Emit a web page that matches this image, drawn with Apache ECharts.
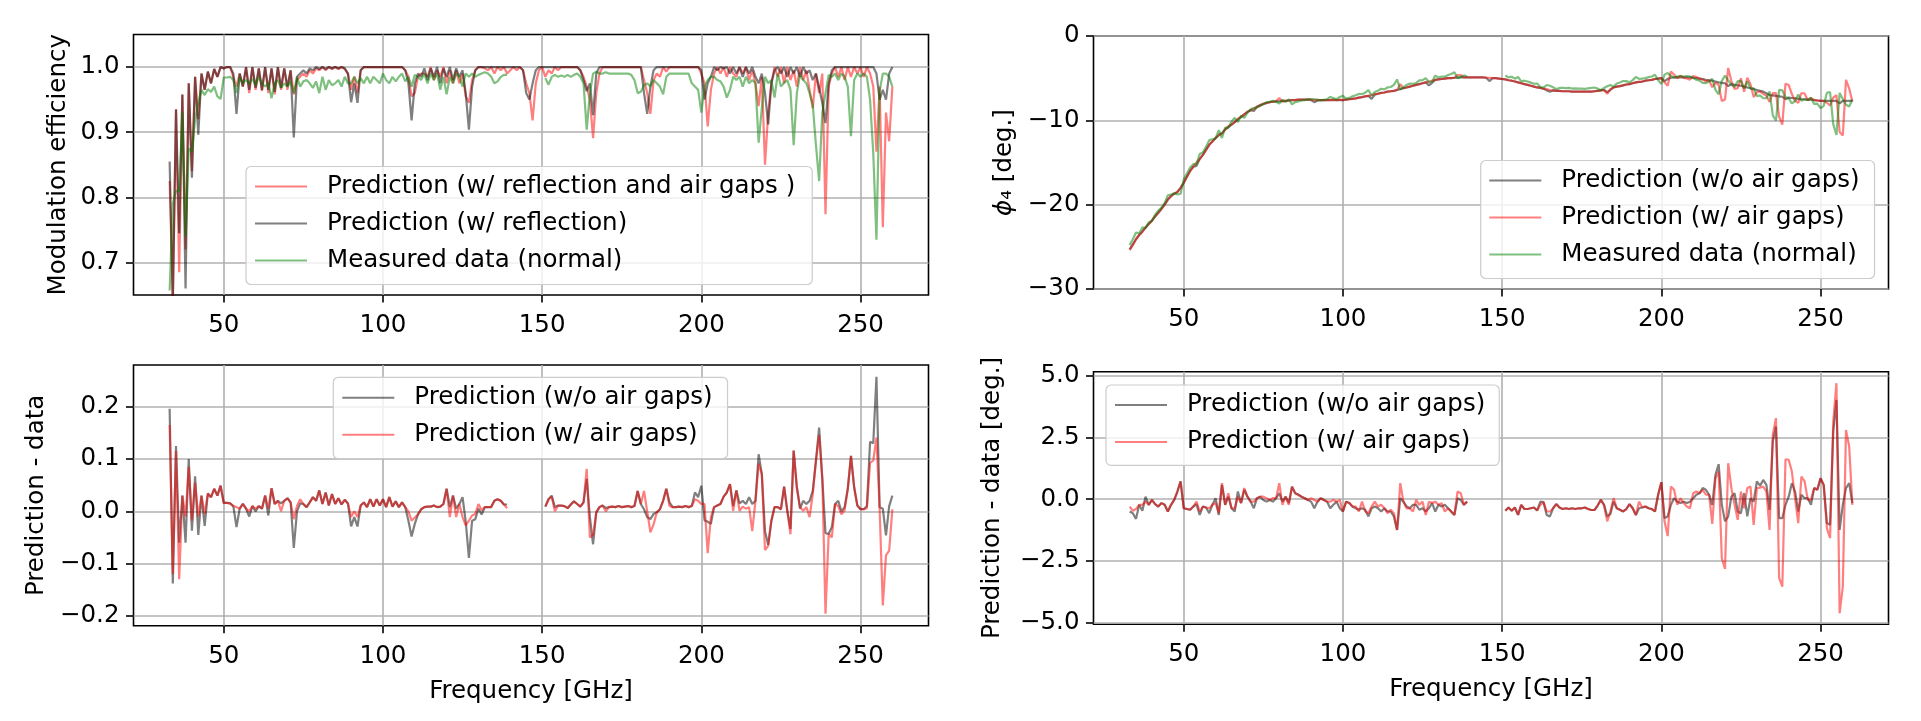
<!DOCTYPE html>
<html>
<head>
<meta charset="utf-8">
<script src="https://cdn.jsdelivr.net/npm/echarts/dist/echarts.min.js"></script>
<style>
  html, body { margin: 0; padding: 0; background: #fff; }
  #chart { width: 1921px; height: 721px; }
</style>
</head>
<body>
<div id="chart"></div>
<script>
'use strict';

// frequency grid of the measurement, GHz (one point per GHz, 33 .. 260)
var freq = [];
for (var f = 33; f <= 260; f++) freq.push(f);

// top left: modulation efficiency (rows of 10 points, first frequency in the comment)
var effAirGaps = [
  .825, .64, .935, .685, .958, .72, .975, .84, .985, .92,    // 33
  .99, .965, .993, .975, .997, .985, 1, .998, 1, 1,          // 43
  .985, .97, .99, .97, 1, .96, 1, .965, .998, .963,          // 53
  1, .96, .998, .958, 1, .965, .998, .965, .995, .958,       // 63
  .98, .985, .99, .985, .995, .99, .998, .995, 1, .995,      // 73
  1, .997, 1, .997, 1, .997, .99, .965, .985, .96,           // 83
  .995, 1, 1, 1, 1, 1, 1, 1, 1, 1,                           // 93
  1, 1, 1, 1, .995, .985, .955, .96, .985, .99,              // 103
  .99, .985, 1, .98, .995, .985, 1, .975, .995, .975,        // 113
  .995, .975, .99, .955, .945, .98, .995, 1, 1, .998,        // 123
  .995, 1, .99, 1, .995, 1, .99, .995, 1, .995,              // 133
  1, .995, .975, .96, .918, .975, .995, 1, .985, .995,       // 143
  .99, 1, .995, 1, 1, 1, 1, 1, 1, .995,                      // 153
  .985, .97, .95, .891, .96, .99, 1, 1, 1, 1,                // 163
  1, 1, 1, 1, 1, 1, 1, 1, 1, .98,                            // 173
  .96, .928, .98, .99, .985, 1, .993, 1, 1, 1,               // 183
  1, 1, 1, 1, 1, 1, 1, .99, .975, .909,                      // 193
  .965, .99, 1, .99, 1, .985, 1, .99, .985, 1,               // 203
  .99, 1, .98, .995, .975, .94, .985, .85, .93, .975,        // 213
  1, .985, 1, .975, 1, .98, .995, .97, 1, .98,               // 223
  .995, .965, .937, .99, .96, .99, .774, .97, .99, 1,        // 233
  .985, 1, .98, 1, .985, 1, .99, 1, .985, 1,                 // 243
  .99, .97, .87, .97, .754, .93, .886, .97                   // 253
];
var effRefl = [
  .855, .64, .935, .745, .958, .66, .975, .83, .985, .896,   // 33
  .99, .965, .993, .975, .997, .985, 1, .998, 1, 1,          // 43
  .99, .928, .99, .97, 1, .965, 1, .968, .998, .965,         // 53
  1, .965, .998, .962, 1, .968, .998, .97, .995, .892,       // 63
  .985, .99, .995, .99, .998, .995, 1, .997, 1, .997,        // 73
  1, .998, 1, .998, 1, .998, .99, .946, .975, .945,          // 83
  .995, 1, 1, 1, 1, 1, 1, 1, 1, 1,                           // 93
  1, 1, 1, 1, .995, .975, .918, .975, .99, .985,             // 103
  .998, .98, .998, .985, 1, .975, .998, .985, 1, .98,        // 113
  .998, .985, .995, .96, .904, .97, .995, 1, 1, 1,           // 123
  1, 1, 1, 1, 1, 1, 1, 1, 1, 1,                              // 133
  1, .995, .96, .95, .975, .995, 1, 1, 1, 1,                 // 143
  1, 1, 1, 1, 1, 1, 1, 1, 1, .995,                           // 153
  .98, .963, .975, .926, .99, 1, 1, 1, 1, 1,                 // 163
  1, 1, 1, 1, 1, 1, 1, 1, 1, .96,                            // 173
  .928, .97, .995, 1, 1, 1, 1, 1, 1, 1,                      // 183
  1, 1, 1, 1, 1, 1, 1, .995, .95, .975,                      // 193
  .985, 1, .995, 1, .998, 1, .99, 1, .99, 1,                 // 203
  .985, 1, .99, 1, .985, .975, .99, .96, .912, .975,         // 213
  .995, 1, .99, 1, .985, 1, .99, 1, .985, 1,                 // 223
  .99, .995, .98, .99, .968, .945, .914, .975, .995, 1,      // 233
  1, 1, 1, 1, 1, 1, 1, 1, 1, 1,                              // 243
  1, 1, .99, .95, .965, .95, .99, 1                          // 253
];
var effMeas = [
  .657, .79, .81, .81, .93, .74, .875, .87, .92, .945,       // 33
  .965, .957, .966, .962, .97, .955, .951, .984, .984, .985, // 43
  .98, .96, .985, .975, .98, .975, .982, .972, .985, .975,   // 53
  .97, .975, .952, .975, .98, .968, .975, .97, .978, .96,    // 63
  .985, .97, .978, .98, .975, .968, .978, .96, .985, .965,   // 73
  .98, .972, .975, .98, .97, .985, .975, .975, .985, .975,   // 83
  .983, .975, .985, .975, .985, .98, .975, .99, .98, .975,   // 93
  .985, .978, .985, .99, .978, .985, .97, .988, .985, .98,   // 103
  .99, .975, .99, .98, .99, .965, .985, .958, .985, .975,    // 113
  .99, .985, .97, .99, .985, .99, .985, .988, .99, .992,     // 123
  .99, .985, .975, .978, .985, .988, .988, null, null, null, // 133
  null, null, null, null, null, null, null, null, .983, .973, // 143
  .985, .988, .985, .987, .985, .988, .985, .988, .99, .985, // 153
  .975, .904, .96, .99, .993, .99, .99, .992, .99, .99,      // 163
  .99, .99, .99, .99, .99, .988, .98, .96, .962, .972,       // 173
  .975, .97, .98, .975, .97, .958, .985, .99, .99, .99,      // 183
  .99, .99, .99, .99, .975, .97, .965, .93, .97, .98,        // 193
  .985, .985, .98, .978, .97, .953, .965, .985, .98, .985,   // 203
  .97, .985, .975, .98, .975, .884, .937, .985, .975, .98,   // 213
  .953, .99, .97, .976, .98, .965, .88, .96, .988, .98,      // 223
  .975, .96, .942, .88, .825, .93, .96, .988, .985, .99,     // 233
  .98, .99, .985, .97, .894, .98, .99, .985, .99, .985,      // 243
  .95, .868, .735, .963, .99, .99, .985, .97                 // 253
];

// top right: phase phi_4 in degrees
var phiNoGap = [
  -25.3, -24.7, -24.1, -23.6, -23.2, -22.7, -22.3, -21.9, -21.4, -21.0,  // 33
  -20.5, -20.0, -19.4, -19.0, -18.7, -18.5, -18.0, -17.4, -16.7, -16.0,  // 43
  -15.5, -15.4, -14.6, -14.1, -13.5, -12.9, -12.5, -12.1, -11.8, -11.5,  // 53
  -11.1, -10.8, -10.5, -10.2, -9.9, -9.6, -9.3, -9.0, -8.8, -8.9,        // 63
  -8.4, -8.2, -8.1, -7.95, -7.85, -7.8, -7.75, -7.75, -7.7, -7.7,        // 73
  -7.65, -7.6, -7.6, -7.55, -7.55, -7.55, -7.55, -7.6, -7.85, -7.65,     // 83
  -7.6, -7.6, -7.6, -7.6, -7.6, -7.6, -7.6, -7.6, -7.55, -7.5,           // 93
  -7.45, -7.4, -7.3, -7.25, -7.15, -7.1, -7.45, -6.95, -6.85, -6.75,     // 103
  -6.7, -6.6, -6.55, -6.5, -6.4, -6.3, -6.2, -6.1, -6.0, -5.9,           // 113
  -5.8, -5.7, -5.6, -5.5, -5.85, -5.55, -5.2, -5.15, -5.1, -5.05,        // 123
  -5.0, -5.0, -4.95, -4.95, -4.9, -4.9, -4.9, -4.9, -4.9, -4.9,          // 133
  -4.9, -4.9, -4.95, -5.35, -5.0, -5.0, -5.05, -5.1, -5.15, -5.25,       // 143
  -5.3, -5.4, -5.5, -5.6, -5.7, -5.8, -5.9, -6.0, -6.1, -6.15,           // 153
  -6.25, -6.45, -6.6, -6.45, -6.5, -6.5, -6.55, -6.55, -6.55, -6.6,      // 163
  -6.6, -6.6, -6.6, -6.6, -6.6, -6.6, -6.55, -6.5, -6.45, -6.4,          // 173
  -6.65, -6.4, -6.1, -6.0, -5.95, -5.85, -5.75, -5.7, -5.6, -5.5,        // 183
  -5.45, -5.4, -5.3, -5.25, -5.2, -5.1, -5.05, -5.0, -5.35, -5.1,        // 193
  -4.95, -4.9, -4.9, -4.9, -4.9, -4.9, -4.9, -4.95, -5.0, -5.05,         // 203
  -5.1, -5.2, -5.25, -5.3, -5.4, -5.5, -5.55, -5.6, -5.95, -5.7,         // 213
  -5.8, -5.85, -5.9, -6.0, -6.1, -6.2, -6.3, -6.4, -6.5, -6.6,           // 223
  -6.8, -7.0, -7.05, -7.1, -7.15, -7.2, -7.5, -7.3, -7.35, -7.4,         // 233
  -7.45, -7.5, -7.5, -7.55, -7.55, -7.6, -7.65, -7.7, -7.7, -7.7,        // 243
  -7.7, -7.7, -7.7, -8.0, -7.7, -7.7, -7.7, -7.7                         // 253
];
var phiGap = [
  -25.4, -24.8, -24.1, -23.6, -23.2, -22.7, -22.3, -21.9, -21.4, -20.9,  // 33
  -20.5, -20.0, -19.4, -19.0, -18.7, -18.5, -18.0, -17.4, -16.7, -16.0,  // 43
  -15.5, -15.0, -14.6, -14.1, -13.5, -12.9, -12.5, -12.1, -11.7, -11.6,  // 53
  -11.1, -10.7, -10.5, -10.2, -9.8, -9.6, -9.3, -9.0, -8.8, -8.6,        // 63
  -8.4, -8.2, -8.0, -7.95, -7.85, -7.8, -7.75, -7.35, -7.8, -7.7,        // 73
  -7.65, -7.6, -7.6, -7.55, -7.55, -7.55, -7.55, -7.5, -7.6, -7.6,       // 83
  -7.6, -7.6, -7.6, -7.6, -7.55, -7.6, -7.55, -7.6, -7.55, -7.5,         // 93
  -7.45, -7.4, -7.3, -7.25, -7.15, -7.1, -7.0, -6.9, -6.85, -6.75,       // 103
  -6.7, -6.6, -6.55, -6.5, -6.4, -5.7, -6.2, -6.1, -6.0, -5.9,           // 113
  -5.8, -5.7, -5.6, -5.5, -5.4, -5.3, -5.2, -5.15, -5.1, -5.05,          // 123
  -5.0, -5.0, -4.95, -4.65, -4.65, -4.9, -4.9, -4.9, -4.9, -4.9,         // 133
  -4.9, -4.9, -4.95, -4.95, -5.0, -5.0, -5.05, -5.1, -5.15, -5.25,       // 143
  -5.3, -5.4, -5.5, -5.6, -5.7, -5.8, -5.9, -6.0, -6.1, -6.15,           // 153
  -6.25, -6.3, -6.4, -6.45, -6.5, -6.5, -6.55, -6.55, -6.55, -6.6,       // 163
  -6.6, -6.6, -6.6, -6.6, -6.6, -6.6, -6.55, -6.5, -6.45, -6.4,          // 173
  -6.85, -6.3, -6.1, -6.0, -5.95, -5.85, -5.75, -5.7, -5.6, -5.5,        // 183
  -5.45, -5.4, -5.3, -5.25, -5.2, -5.1, -5.05, -5.0, -5.48, -5.9,        // 193
  -4.21, -4.56, -5.03, -4.7, -4.96, -5.04, -5.17, -4.75, -4.87, -5.05,   // 203
  -5.17, -5.4, -5.25, -6.07, -5.54, -5.8, -7.72, -7.53, -3.79, -5.35,    // 213
  -6.27, -6.19, -5.02, -6.61, -4.95, -5.73, -7.24, -6.67, -6.58, -6.87,  // 223
  -7.07, -7.82, -6.78, -6.76, -9.58, -10.5, -5.65, -5.8, -6.88, -7.67,   // 233
  -7.92, -6.76, -6.82, -7.62, -7.35, -7.6, -7.65, -7.7, -7.7, -7.91,     // 243
  -8.24, -7.3, -7.02, -11.38, -11.8, -5.2, -6.21, -7.77                  // 253
];
var phiMeas = [
  -24.8, -24.1, -23.3, -23.4, -22.7, -22.8, -22.1, -21.9, -21.2, -20.7,      // 33
  -20.35, -19.8, -18.9, -18.8, -18.65, -18.8, -18.7, -17.0, -16.3, -15.6,    // 43
  -15.2, -15.2, -14.0, -13.8, -13.15, -12.35, -12.25, -12.15, -11.15, -12.1, // 53
  -10.85, -10.9, -10.15, -9.7, -10.2, -9.45, -9.7, -9.1, -8.7, -8.55,        // 63
  -8.45, -8.3, -8.05, -7.85, -7.8, -7.7, -7.8, -8.0, -7.6, -7.8,             // 73
  -7.5, -8.1, -7.85, -7.75, -7.65, -7.6, -7.5, -7.5, -7.5, -7.55,            // 83
  -7.64, -7.57, -7.5, -7.23, -7.37, -7.5, -7.23, -7.1, -7.45, -7.34,         // 93
  -7.15, -7.03, -6.87, -6.88, -6.72, -6.4, -7.08, -6.65, -6.48, -6.25,       // 103
  -6.33, -6.1, -6.05, -5.8, -5.15, -6.34, -6.1, -5.8, -5.63, -5.67,          // 113
  -5.57, -5.27, -5.23, -5.0, -5.48, -5.39, -4.7, -4.92, -4.8, -4.82,         // 123
  -4.63, -4.5, -4.31, -4.99, -4.87, -4.67, -4.8, null, null, null,           // 133
  null, null, null, null, null, null, null, null, -4.68, -4.91,              // 143
  -4.83, -5.06, -4.86, -5.37, -5.3, -5.4, -5.53, -5.66, -5.64, -6.05,        // 153
  -6.13, -5.81, -5.9, -6.08, -6.3, -6.16, -6.15, -6.18, -6.15, -6.23,        // 163
  -6.2, -6.23, -6.23, -6.26, -6.2, -6.16, -6.11, -6.24, -6.42, -6.17,        // 173
  -5.95, -5.8, -6.0, -5.63, -5.52, -5.35, -5.35, -5.5, -5.23, -4.86,         // 183
  -5.08, -5.06, -5.0, -4.88, -4.8, -4.6, -5.23, -5.69, -4.58, -4.4,          // 193
  -4.72, -4.94, -4.8, -4.74, -4.8, -4.74, -4.8, -4.99, -5.18, -5.29,         // 203
  -5.55, -5.58, -5.43, -5.07, -6.39, -6.92, -5.32, -4.7, -5.25, -5.8,        // 213
  -6.04, -5.35, -5.33, -6.24, -5.4, -6.24, -6.2, -7.12, -7.05, -7.38,        // 223
  -7.38, -6.57, -9.39, -10.05, -6.38, -6.43, -7.27, -7.4, -8.0, -7.71,       // 233
  -6.95, -7.68, -7.54, -7.59, -7.32, -8.05, -8.03, -8.55, -8.28, -6.73,      // 243
  -6.66, -10.45, -11.73, -6.75, -7.47, -8.15, -8.35, -7.54                   // 253
];

// bottom left: prediction - data, modulation efficiency
var dEffNoGap = [
  .196, -.138, .125, -.06, .03, -.06, .1, -.037, .067, -.045,      // 33
  .03, -.028, .034, .027, .043, .03, .049, .016, .016, .015,       // 43
  .01, -.03, .005, .014, .005, -.01, .01, 0, .01, .005,            // 53
  .03, -.008, .044, .014, .02, .015, .02, .025, .017, -.07,        // 63
  0, .015, .014, .008, .017, .027, .02, .04, .014, .036,           // 73
  .011, .033, .014, .025, .013, .022, .015, -.029, -.011, -.029,   // 83
  .011, .017, .008, .023, .009, .023, .011, .023, .008, .027,      // 93
  .009, .019, .008, .017, .008, -.018, -.048, -.024, -.006, .004,  // 103
  .008, .009, .009, .011, .008, .009, .014, .043, .008, .03,       // 113
  .005, .014, .027, -.02, -.089, -.018, -.015, .005, -.006, .008,  // 123
  .008, .008, .02, .023, .02, .013, .013, null, null, null,        // 133
  null, null, null, null, null, null, null, null, .009, .023,      // 143
  .03, .008, .011, .011, .01, .006, .013, .019, .014, .009,        // 153
  .017, .062, -.011, -.063, -.002, .008, .011, .006, .008, .009,   // 163
  .008, .01, .008, .009, .01, .008, .01, .039, .014, .004,         // 173
  -.011, -.015, -.005, -.002, .004, .02, .043, .017, .008, .008,   // 183
  .009, .008, .01, .008, .01, .036, .027, .049, -.017, -.02,       // 193
  -.024, .008, .011, .014, .028, .036, .052, .01, .04, .015,       // 203
  .02, .014, .027, .014, .02, .109, .071, -.038, -.064, -.018,     // 213
  .008, .008, .004, .047, .001, -.034, .116, .046, .005, .02,      // 223
  .014, .02, .039, .097, .16, .062, -.042, -.043, -.03, .014,      // 233
  .02, 0, .008, .043, .106, .046, .011, .004, .004, .01,           // 243
  .133, .13, .257, .008, .005, -.046, .01, .03                     // 253
];
var dEffGap = [
  .165, -.12, .115, -.13, .03, -.01, .085, -.018, .055, -.01,      // 33
  .03, -.005, .034, .027, .043, .03, .049, .016, .016, .015,       // 43
  .01, .008, .005, .014, .005, 0, .01, .005, .01, .005,            // 53
  .03, .005, .044, .014, .02, 0, .02, .025, .017, -.015,           // 63
  .01, .023, .014, .008, .017, .027, .02, .04, .014, .036,         // 73
  .011, .033, .014, .025, .013, .022, .015, -.011, 0, -.011,       // 83
  .011, .017, .008, .023, .009, .023, .011, .023, .008, .027,      // 93
  .009, .019, .008, .017, .008, 0, -.018, -.012, -.006, .004,      // 103
  .008, .009, .009, .011, .008, .009, .014, .043, -.011, .03,      // 113
  -.011, .014, -.011, -.027, -.018, -.008, -.005, .014, .002, .008, // 123
  .008, .008, .02, .023, .02, .013, .006, null, null, null,        // 133
  null, null, null, null, null, null, null, null, .009, .023,      // 143
  .028, 0, .011, .011, .01, .006, .013, .019, .014, .009,          // 153
  .017, .081, -.05, -.045, -.002, .008, .011, 0, .008, .009,       // 163
  .008, .01, .008, .009, .01, .008, .01, .039, .014, .039,         // 173
  0, -.04, -.025, -.002, .004, .02, .043, .01, .008, .008,         // 183
  .009, .008, .01, .008, .01, .023, .02, .014, .014, -.08,         // 193
  -.011, .008, .011, .014, .028, .036, .052, .001, .04, .001,      // 203
  .009, .005, .008, -.038, .02, .091, .071, -.074, -.066, -.018,   // 213
  .008, .008, .004, .047, .001, -.044, .116, .046, .008, .001,     // 223
  .008, -.011, .033, .097, .146, .062, -.196, -.043, -.05, .014,   // 233
  .01, -.006, .002, .043, .106, .046, .011, .004, .004, .006,      // 243
  .093, .097, .141, .005, -.18, -.084, -.075, .004                 // 253
];

// bottom right: prediction - data, degrees
var dPhiNoGap = [
  -.5, -.57, -.8, -.23, -.47, .1, -.23, -.03, -.2, -.3,        // 33
  -.16, -.23, -.5, -.23, -.03, .31, .72, -.37, -.4, -.43,      // 43
  -.3, -.2, -.64, -.3, -.34, -.57, -.23, .04, -.64, .58,       // 53
  -.23, .1, -.37, -.5, .31, -.16, .38, .1, -.1, -.37,          // 63
  .04, .1, -.03, -.1, -.03, -.1, .04, .24, -.1, .1,            // 73
  -.16, .51, .24, .18, .1, .04, -.03, -.1, -.37, -.1,          // 83
  .04, -.03, -.1, -.37, -.23, -.1, -.37, -.5, -.1, -.16,       // 93
  -.3, -.37, -.43, -.37, -.43, -.7, -.37, -.3, -.37, -.5,      // 103
  -.37, -.5, -.5, -.7, -1.25, .04, -.1, -.3, -.37, -.23,       // 113
  -.23, -.43, -.37, -.5, -.37, -.16, -.5, -.23, -.3, -.23,     // 123
  -.37, -.5, -.64, .04, -.03, -.23, -.1, null, null, null,     // 133
  null, null, null, null, null, null, null, null, -.47, -.34,  // 143
  -.47, -.34, -.64, -.23, -.4, -.4, -.37, -.34, -.46, -.1,     // 153
  -.12, -.64, -.7, -.37, -.2, -.34, -.4, -.37, -.4, -.37,      // 163
  -.4, -.37, -.37, -.34, -.4, -.44, -.44, -.26, -.03, -.23,    // 173
  -.7, -.6, -.1, -.37, -.43, -.5, -.4, -.2, -.37, -.64,        // 183
  -.37, -.34, -.3, -.37, -.4, -.5, .18, .69, -.77, -.7,        // 193
  -.23, .04, -.1, -.16, -.1, -.16, -.1, .04, .18, .24,         // 203
  .45, .38, .18, -.23, .99, 1.42, -.23, -.9, -.7, .1,          // 213
  .24, -.5, -.57, .24, -.7, .04, -.1, .72, .55, .78,           // 223
  .58, -.43, 2.34, 2.95, -.77, -.77, -.23, .1, .65, .31,       // 233
  -.5, .18, .04, .04, -.23, .45, .38, .85, .58, -.97,          // 243
  -1.04, 2.75, 4.03, -1.25, -.23, .45, .65, -.16               // 253
];
var dPhiGap = [
  -.3, -.47, -.4, -.23, -.23, -.1, -.23, -.03, -.2, -.3,       // 33
  -.16, -.23, -.5, -.23, -.03, .31, .72, -.37, -.4, -.43,      // 43
  -.3, -.1, -.5, -.3, -.34, -.37, -.23, -.16, -.57, .65,       // 53
  -.23, .24, -.37, -.37, .1, -.16, .45, .1, -.1, -.1,          // 63
  .04, .1, .1, .04, -.03, .04, .04, .65, -.23, .1,             // 73
  -.23, .51, .24, .18, .1, .04, -.03, .04, -.03, -.1,          // 83
  .04, -.03, -.1, -.1, -.03, -.1, -.03, -.5, -.1, -.16,        // 93
  -.3, -.3, -.5, -.1, -.5, -.57, -.3, -.1, -.3, -.23,          // 103
  -.37, -.57, -.43, -.57, -1.25, .65, -.1, -.37, -.37, -.5,    // 113
  -.03, -.23, -.1, -.64, -.1, -.16, -.1, -.23, -.16, -.5,      // 123
  -.37, -.5, -.64, .31, .24, -.23, -.1, null, null, null,      // 133
  null, null, null, null, null, null, null, null, -.47, -.34,  // 143
  -.47, -.34, -.64, -.23, -.4, -.4, -.37, -.34, -.46, -.23,    // 153
  -.12, -.5, -.5, -.37, -.2, -.34, -.4, -.37, -.4, -.37,       // 163
  -.4, -.37, -.37, -.34, -.4, -.44, -.44, -.26, -.03, -.23,    // 173
  -.9, -.5, .04, -.37, -.43, -.5, -.4, -.2, -.37, -.64,        // 183
  -.1, -.34, -.3, -.37, -.4, -.5, .18, .69, -.9, -1.5,         // 193
  .51, .38, -.23, .04, -.16, -.3, -.37, .24, .31, .24,         // 203
  .38, .18, .18, -1.0, .85, 1.12, -2.4, -2.83, 1.46, .45,      // 213
  -.23, -.84, .31, -.37, .45, .51, -1.04, .45, .47, .51,       // 223
  .31, -1.25, 2.61, 3.29, -3.2, -3.55, 1.62, 1.6, 1.12, .04,   // 233
  -.97, .92, .72, -.03, -.03, .45, .38, .85, .58, -1.18,       // 243
  -1.58, 3.15, 4.71, -4.63, -3.55, 2.81, 2.14, -.23            // 253
];

// tick positions
var xTicks = [50, 100, 150, 200, 250];
var effTicks = [0.7, 0.8, 0.9, 1.0];
var phiTicks = [-30, -20, -10, 0];
var dEffTicks = [-0.2, -0.1, 0, 0.1, 0.2];
var dPhiTicks = [-5, -2.5, 0, 2.5, 5];

// legend / series names
var N_AIR_REFL = 'Prediction (w/ reflection and air gaps )';
var N_REFL = 'Prediction (w/ reflection)';
var N_MEAS = 'Measured data (normal)';
var N_NOGAP = 'Prediction (w/o air gaps)';
var N_GAP = 'Prediction (w/ air gaps)';

[effAirGaps, effRefl, effMeas, phiNoGap, phiGap, phiMeas, dEffNoGap, dEffGap, dPhiNoGap, dPhiGap].forEach(function (a, i) {
    if (a.length !== freq.length) throw new Error('array ' + i + ' has ' + a.length + ' values');
});

var FONT = 'DejaVu Sans';
var FS = 24.5;
var RED = 'rgba(255,0,0,0.5)';
var GRAY = 'rgba(0,0,0,0.5)';
var GREEN = 'rgba(0,128,0,0.5)';

var fmt = function (digits) {
    return function (v) {
        return (v < 0 ? '\u2212' : '') + Math.abs(v).toFixed(digits);
    };
};

var xAxisFor = function (gi, title) {
    return {
        type: 'value', gridIndex: gi, min: 21.65, max: 271.35, minInterval: 50, maxInterval: 50,
        axisLine: {show: false, onZero: false},
        axisTick: {show: true, length: 7.5, lineStyle: {color: '#000', width: 1.6}, customValues: xTicks},
        axisLabel: {customValues: xTicks, margin: 18, fontFamily: FONT, fontSize: FS, color: '#000'},
        splitLine: {show: true, lineStyle: {color: '#b0b0b0', width: 1.6}},
        name: title, nameLocation: 'middle', nameGap: 53,
        nameTextStyle: {fontFamily: FONT, fontSize: FS, color: '#000'}
    };
};

var yAxisFor = function (gi, min, max, step, ticks, digits, title, gap) {
    return {
        type: 'value', gridIndex: gi, min: min, max: max, minInterval: step, maxInterval: step,
        axisLine: {show: false, onZero: false},
        axisTick: {show: true, length: 7.5, lineStyle: {color: '#000', width: 1.6}, customValues: ticks},
        axisLabel: {customValues: ticks, margin: 14, fontFamily: FONT, fontSize: FS, color: '#000', formatter: fmt(digits)},
        splitLine: {show: true, lineStyle: {color: '#b0b0b0', width: 1.6}},
        name: title, nameLocation: 'middle', nameGap: gap,
        nameTextStyle: {
            fontFamily: FONT, fontSize: FS, color: '#000',
            rich: {i: {fontFamily: FONT, fontSize: FS, fontStyle: 'italic', color: '#000'}}
        }
    };
};

var line = function (name, values, color, gi) {
    return {
        type: 'line', name: name, xAxisIndex: gi, yAxisIndex: gi,
        data: freq.map(function (f, i) { return [f, values[i]]; }),
        showSymbol: false, symbol: 'none', connectNulls: false,
        lineStyle: {color: color, width: 2.2}, itemStyle: {color: color},
        emphasis: {disabled: true}, silent: true, animation: false
    };
};

var legendAt = function (left, top, padding, names) {
    return {
        orient: 'vertical', left: left, top: top, padding: padding, data: names,
        icon: 'rect', itemWidth: 52, itemHeight: 2, itemGap: 9, selectedMode: false,
        backgroundColor: 'rgba(255,255,255,0.8)', borderColor: '#cccccc', borderWidth: 1.2, borderRadius: 5,
        textStyle: {fontFamily: FONT, fontSize: FS, color: '#000', lineHeight: 28, padding: [0, 0, 0, 15]}
    };
};

var chart = echarts.init(document.getElementById('chart'), null, {renderer: 'canvas'});

var option = {
    backgroundColor: '#ffffff',
    animation: false,
    grid: [
        {left: 133.5, top: 34.5, width: 795, height: 260.5, show: true, borderColor: '#000', borderWidth: 1.6},
        {left: 1093.5, top: 36, width: 795, height: 253, show: true, borderColor: '#000', borderWidth: 1.6},
        {left: 133.5, top: 365, width: 795, height: 260.7, show: true, borderColor: '#000', borderWidth: 1.6},
        {left: 1093.5, top: 371.7, width: 795, height: 252.6, show: true, borderColor: '#000', borderWidth: 1.6}
    ],
    xAxis: [
        xAxisFor(0, ''),
        xAxisFor(1, ''),
        xAxisFor(2, 'Frequency [GHz]'),
        xAxisFor(3, 'Frequency [GHz]')
    ],
    yAxis: [
        yAxisFor(0, 0.65, 1.05, 0.1, effTicks, 1, 'Modulation efficiency', 62),
        yAxisFor(1, -30, 0, 10, phiTicks, 0, '{i|\u03d5}\u2084 [deg.]', 76),
        yAxisFor(2, -0.2187, 0.2797, 0.1, dEffTicks, 1, 'Prediction - data', 84),
        yAxisFor(3, -5.08, 5.175, 2.5, dPhiTicks, 1, 'Prediction - data [deg.]', 88)
    ],
    legend: [
        legendAt(246, 166.5, [6, 17, 10, 9], [N_AIR_REFL, N_REFL, N_MEAS]),
        legendAt(1480.7, 160.5, [6, 15, 10, 8.6], [N_NOGAP, N_GAP, N_MEAS]),
        legendAt(333.3, 377.3, [6.4, 15, 10, 9], [N_NOGAP, N_GAP]),
        legendAt(1106, 385, [6, 14, 9.3, 9], [N_NOGAP, N_GAP])
    ],
    series: [
        line(N_AIR_REFL, effAirGaps, RED, 0),
        line(N_REFL, effRefl, GRAY, 0),
        line(N_MEAS, effMeas, GREEN, 0),
        line(N_NOGAP, phiNoGap, GRAY, 1),
        line(N_GAP, phiGap, RED, 1),
        line(N_MEAS, phiMeas, GREEN, 1),
        line(N_NOGAP, dEffNoGap, GRAY, 2),
        line(N_GAP, dEffGap, RED, 2),
        line(N_NOGAP, dPhiNoGap, GRAY, 3),
        line(N_GAP, dPhiGap, RED, 3)
    ]
};

chart.setOption(option);
</script>
</body>
</html>
